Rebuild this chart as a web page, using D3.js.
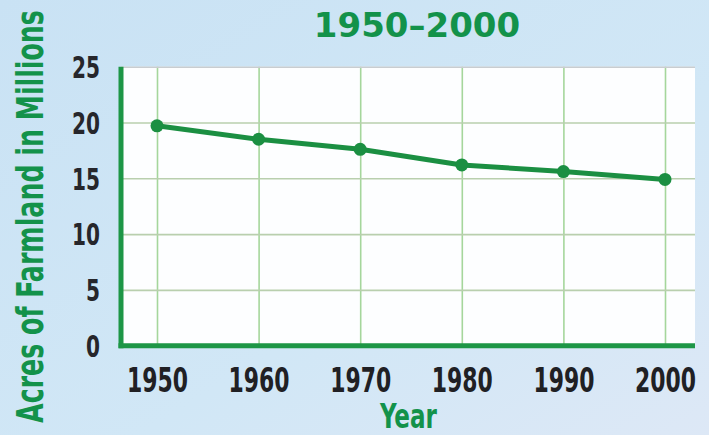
<!DOCTYPE html>
<html>
<head>
<meta charset="utf-8">
<script src="https://cdn.jsdelivr.net/npm/d3@7"></script>
<style>
  html, body { margin: 0; padding: 0; }
  body { width: 709px; height: 435px; overflow: hidden; }
  .narrow { font-family: "Liberation Sans Narrow", "DejaVu Sans Condensed", "Arial Narrow", sans-serif; font-weight: bold; }
</style>
</head>
<body>
<div class="main"></div>
<script>
const years = [1950, 1960, 1970, 1980, 1990, 2000],
acres = [19.7, 18.5, 17.6, 16.2, 15.6, 14.9],
yTicks = [0, 5, 10, 15, 20, 25];

const w = 709, h = 435;
const plotL = 121, plotR = 695, plotT = 66.7, plotB = 345.7;

const svg = d3.select('.main')
            .append('svg')
            .attr('width', w)
            .attr('height', h)

// squeeze text horizontally so it reads like the condensed print face
function squeeze(sel, target, tx, ty, rot) {
    sel.each(function(d) {
        const el = d3.select(this)
        const wTarget = typeof target == 'function' ? target(d) : target
        const s = Math.min(1, wTarget / this.getComputedTextLength())
        el.attr('x', 0).attr('y', 0)
          .attr('transform', `translate(${tx}, ${ty})${rot ? ` rotate(${rot})` : ''} scale(${s}, 1)`)
    })
}

// background
const defs = svg.append('defs')
const bg = defs.append('linearGradient')
            .attr('id', 'bg')
            .attr('x1', 0).attr('y1', 0)
            .attr('x2', 1).attr('y2', 1)
bg.append('stop').attr('offset', 0).attr('stop-color', '#c9e2f4')
bg.append('stop').attr('offset', 0.6).attr('stop-color', '#d1e7f6')
bg.append('stop').attr('offset', 1).attr('stop-color', '#dde8f6')

svg.append('rect')
    .attr('width', w)
    .attr('height', h)
    .attr('fill', 'url(#bg)')

const x = d3.scaleLinear()
            .domain([1950, 2000])
            .range([157, 665])

const y = d3.scaleLinear()
            .domain([0, 25])
            .range([plotB, plotT])

// plot area
svg.append('rect')
    .attr('x', plotL)
    .attr('y', plotT)
    .attr('width', plotR - plotL)
    .attr('height', plotB - plotT)
    .attr('fill', '#fdfeff')

// grid
svg.append('g')
    .attr('class', 'grid-x')
    .attr('transform', `translate(0, ${plotB})`)
    .call(d3.axisBottom(x).tickValues(years).tickSize(-(plotB - plotT)).tickFormat(''))
    .call(g => g.select('.domain').remove())
    .selectAll('line')
    .attr('stroke', '#a5d69c')
    .attr('stroke-width', 1.6)

svg.append('g')
    .attr('class', 'grid-y')
    .attr('transform', `translate(${plotL}, 0)`)
    .call(d3.axisLeft(y).tickValues(yTicks.slice(1)).tickSize(-(plotR - plotL)).tickFormat(''))
    .call(g => g.select('.domain').remove())
    .selectAll('line')
    .attr('stroke', d => d == 25 ? '#c9cdd0' : '#b9cfae')
    .attr('stroke-width', 1.6)

// axes lines
svg.append('line')
    .attr('x1', plotL).attr('x2', plotL)
    .attr('y1', plotT).attr('y2', plotB + 2.5)
    .attr('stroke', '#1d9646')
    .attr('stroke-width', 5)
svg.append('line')
    .attr('x1', plotL - 2.5).attr('x2', plotR)
    .attr('y1', plotB).attr('y2', plotB)
    .attr('stroke', '#1d9646')
    .attr('stroke-width', 5)

// tick labels
const yAxis = svg.append('g')
    .attr('class', 'narrow')
    .attr('transform', `translate(${plotL}, 0)`)
    .call(d3.axisLeft(y).tickValues(yTicks).tickSize(0).tickPadding(21))
yAxis.select('.domain').remove()
yAxis.attr('font-family', null)
yAxis.selectAll('text')
    .attr('font-size', 30)
    .attr('fill', '#26262b')
    .attr('dy', '0.36em')
    .call(squeeze, d => String(d).length * 14, -21, 0)

const xAxis = svg.append('g')
    .attr('class', 'narrow')
    .attr('transform', `translate(0, ${plotB})`)
    .call(d3.axisBottom(x).tickValues(years).tickSize(0).tickFormat(d3.format('d')))
xAxis.select('.domain').remove()
xAxis.attr('font-family', null)
xAxis.selectAll('text')
    .attr('font-size', 34)
    .attr('fill', '#202024')
    .attr('dy', null)
    .call(squeeze, 61, 0, 46.5)

// line
const line = d3.line()
            .x((d, i) => x(years[i]))
            .y(d => y(d))

svg.append('path')
    .datum(acres)
    .attr('d', line)
    .attr('fill', 'none')
    .attr('stroke', '#1b8f42')
    .attr('stroke-width', 5)
    .attr('stroke-linejoin', 'round')

svg.selectAll('circle')
    .data(acres)
    .enter()
    .append('circle')
    .attr('cx', (d, i) => x(years[i]))
    .attr('cy', d => y(d))
    .attr('r', 6.5)
    .attr('fill', '#1b8f42')

// titles
svg.append('text')
    .text('1950–2000')
    .attr('x', 417)
    .attr('y', 37)
    .attr('text-anchor', 'middle')
    .attr('font-family', 'DejaVu Sans, sans-serif')
    .attr('font-weight', 'bold')
    .attr('font-size', 34)
    .attr('fill', '#13924a')

svg.append('text')
    .text('Year')
    .attr('class', 'narrow')
    .attr('text-anchor', 'middle')
    .attr('font-size', 33)
    .attr('fill', '#13924a')
    .call(squeeze, 57, 408.5, 428)

svg.append('text')
    .text('Acres of Farmland in Millions')
    .attr('class', 'narrow')
    .attr('text-anchor', 'middle')
    .attr('font-size', 38)
    .attr('fill', '#13924a')
    .call(squeeze, 413, 43, 216.5, -90)
</script>
</body>
</html>
